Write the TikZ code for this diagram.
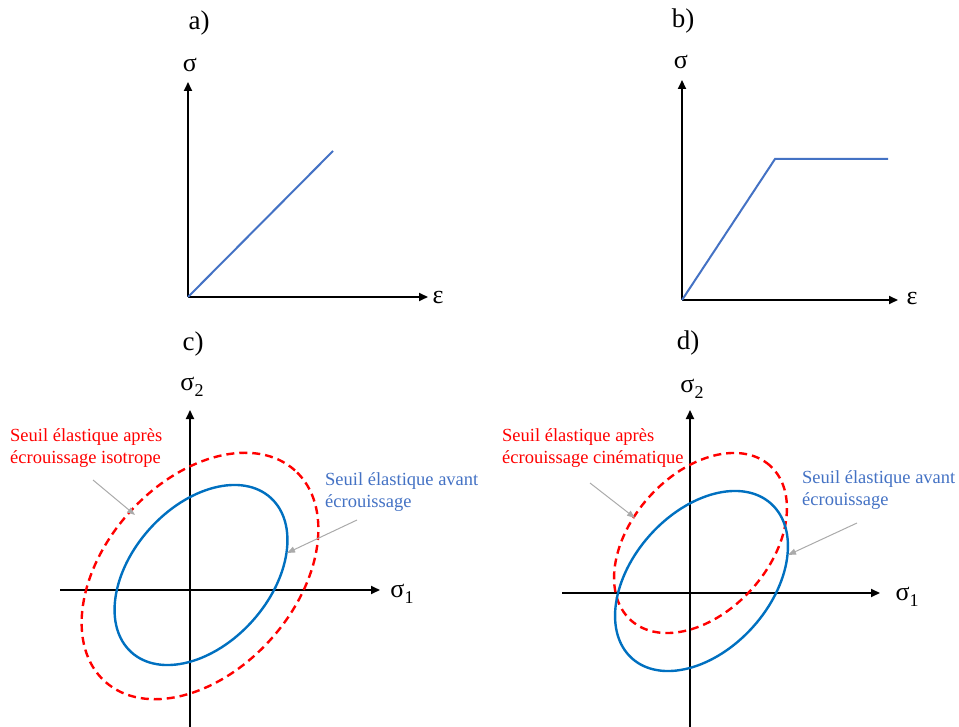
\documentclass[tikz,border=0pt]{standalone}
\usepackage{fontspec}
\setmainfont{Liberation Serif}
\usetikzlibrary{arrows.meta}
\definecolor{lineblue}{RGB}{68,114,196}
\definecolor{ellblue}{RGB}{0,112,192}
\definecolor{txtblue}{RGB}{68,114,196}
\definecolor{dred}{RGB}{255,0,0}
\definecolor{agray}{RGB}{170,170,170}
\newcommand\lowsub[1]{\raisebox{-0.45ex}{\fontsize{18}{18}\selectfont #1}}
\begin{document}
\begin{tikzpicture}[x=1pt,y=1pt,
 axis/.style={line width=2pt,-{Triangle[length=9pt,width=8pt]}},
 curve/.style={line width=2pt,lineblue},
 yieldbefore/.style={line width=2.4pt,ellblue},
 yieldafter/.style={line width=2.4pt,dred,dash pattern=on 8pt off 5pt},
 pointer/.style={line width=1pt,agray,-{Triangle[length=8pt,width=6pt]}},
 panel/.style={font=\fontsize{27}{27}\selectfont,inner sep=0pt},
 sym/.style={font=\fontsize{26}{26}\selectfont,inner sep=0pt},
 note/.style={font=\fontsize{18.5}{22}\selectfont,align=left,anchor=west,inner sep=0pt}]
\useasboundingbox (0,0) rectangle (959,-727);

% ---------- panel a ----------
\node[panel] (la) at (199,-23) {a)};
\coordinate (Oa) at (188,-297);
\coordinate (Ya) at (188,-82);
\coordinate (Xa) at (428,-297);
\coordinate (Ea) at (333,-151);
\draw[axis] (Oa) -- (Ya);
\draw[axis] (Oa) -- (Xa);
\draw[curve] (Oa) -- (Ea);
\node[sym] (sa) at (190,-65) {σ};
\node[sym] (ea) at (438,-298) {ε};

% ---------- panel b ----------
\node[panel] (lb) at (683,-21) {b)};
\coordinate (Ob) at (682,-300);
\coordinate (Yb) at (682,-80);
\coordinate (Xb) at (898,-300);
\coordinate (Kb) at (775,-159);
\coordinate (Eb) at (888,-159);
\draw[axis] (Ob) -- (Yb);
\draw[axis] (Ob) -- (Xb);
\draw[curve] (Ob) -- (Kb) -- (Eb);
\node[sym] (sb) at (681,-62) {σ};
\node[sym] (eb) at (912,-299) {ε};

% ---------- panel c ----------
\node[panel] (lc) at (193,-344) {c)};
\coordinate (Yc0) at (190,-727);
\coordinate (Yc) at (190,-410);
\coordinate (Xc0) at (60,-590);
\coordinate (Xc) at (380,-590);
\draw[axis] (Yc0) -- (Yc);
\draw[axis] (Xc0) -- (Xc);
\node[sym] (s2c) at (192,-387) {σ\lowsub{2}};
\node[sym] (s1c) at (402,-594) {σ\lowsub{1}};
\draw[yieldafter, rotate around={48:(200,-576)}] (200,-576) ellipse [x radius=142, y radius=95];
\draw[yieldbefore, rotate around={48:(201,-575)}] (201,-575) ellipse [x radius=104, y radius=69];
\node[note,text=dred] (tcr) at (10,-448) {Seuil élastique après\\écrouissage isotrope};
\node[note,text=txtblue] (tcb) at (325,-492) {Seuil élastique avant\\écrouissage};
\coordinate (pc1s) at (93,-480);
\coordinate (pc1e) at (135,-515);
\coordinate (pc2s) at (357,-520);
\coordinate (pc2e) at (287,-553);
\draw[pointer] (pc1s) -- (pc1e);
\draw[pointer] (pc2s) -- (pc2e);

% ---------- panel d ----------
\node[panel] (ld) at (688,-343) {d)};
\coordinate (Yd0) at (690,-727);
\coordinate (Yd) at (690,-410);
\coordinate (Xd0) at (562,-593);
\coordinate (Xd) at (880,-593);
\draw[axis] (Yd0) -- (Yd);
\draw[axis] (Xd0) -- (Xd);
\node[sym] (s2d) at (692,-389) {σ\lowsub{2}};
\node[sym] (s1d) at (907,-597) {σ\lowsub{1}};
\draw[yieldafter, rotate around={48:(700.5,-543)}] (700.5,-543) ellipse [x radius=104, y radius=69];
\draw[yieldbefore, rotate around={48:(701.5,-581)}] (701.5,-581) ellipse [x radius=104, y radius=69];
\node[note,text=dred] (tdr) at (502,-448) {Seuil élastique après\\écrouissage cinématique};
\node[note,text=txtblue] (tdb) at (802,-490) {Seuil élastique avant\\écrouissage};
\coordinate (pd1s) at (590,-483);
\coordinate (pd1e) at (635,-518);
\coordinate (pd2s) at (857,-523);
\coordinate (pd2e) at (788,-555);
\draw[pointer] (pd1s) -- (pd1e);
\draw[pointer] (pd2s) -- (pd2e);
\end{tikzpicture}
\end{document}
